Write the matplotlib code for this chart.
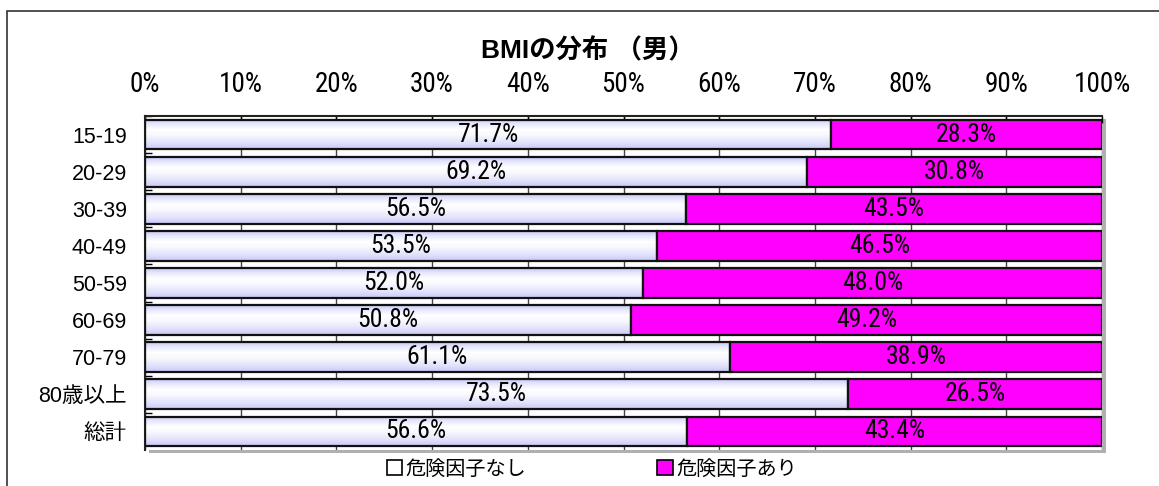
import numpy as np
import matplotlib.pyplot as plt
from matplotlib import font_manager as fm
from matplotlib.patches import Rectangle, Patch

# data
categories = ["15-19", "20-29", "30-39", "40-49", "50-59", "60-69", "70-79", "80歳以上", "総計"]
no_risk = [71.7, 69.2, 56.5, 53.5, 52.0, 50.8, 61.1, 73.5, 56.6]
risk = [28.3, 30.8, 43.5, 46.5, 48.0, 49.2, 38.9, 26.5, 43.4]
series_names = ["危険因子なし", "危険因子あり"]
xticks = list(range(0, 101, 10))

installed = {f.name for f in fm.fontManager.ttflist}
if "Liberation Sans Narrow" in installed:
    narrow, num_size = ["Liberation Sans Narrow", "Noto Sans CJK JP"], 20.5
elif "Roboto Condensed" in installed:
    narrow, num_size = ["Roboto Condensed", "Noto Sans CJK JP"], 19.5
else:
    narrow, num_size = ["Liberation Sans", "Noto Sans CJK JP"], 16
jp = ["Liberation Sans", "Noto Sans CJK JP", "DejaVu Sans"]
plt.rcParams["font.family"] = jp

fig = plt.figure(figsize=(11.59, 4.86), dpi=100)
W, H = 1159, 486
L, R, T, B = 145, 1102, 116, 450
ax = fig.add_axes([L / W, 1 - B / H, (R - L) / W, (B - T) / H])

# outer frame
fig.patches.append(Rectangle((7 / W, -0.1), 1.2, 1 - 11 / H + 0.1, transform=fig.transFigure,
                             fill=False, edgecolor="#333333", linewidth=1.2, zorder=-2))
# drop shadow of the plot area
fig.patches.append(Rectangle(((L + 4) / W, 1 - (B + 3) / H), (R - L) / W, (B - T) / H,
                             transform=fig.transFigure, facecolor="#b0b0b0",
                             edgecolor="none", zorder=-1))

# gradient for light bars
grad = np.array([0.0, 0.15, 0.35, 0.55, 0.8, 1.0])
lav = np.array([200, 200, 248]) / 255
white = np.array([1, 1, 1])
vals = np.array([0.0, 0.55, 1.0, 0.85, 0.45, 0.0])
ys = np.linspace(0, 1, 64)
w = np.interp(ys, grad, vals)
img = (lav[None, :] * (1 - w[:, None]) + white[None, :] * w[:, None])[:, None, :]

y = np.arange(len(categories))
h = 0.8
bars1 = ax.barh(y, no_risk, height=h, color="none", edgecolor="#111111", linewidth=1.6, zorder=3)
for b in bars1:
    x0, y0, bw, bh = b.get_x(), b.get_y(), b.get_width(), b.get_height()
    im = ax.imshow(img, extent=(x0, x0 + bw, y0 + bh, y0), aspect="auto", zorder=2)
    im.set_clip_path(b)
bars2 = ax.barh(y, risk, left=no_risk, height=h, color="#ff00ff", edgecolor="#111111",
                linewidth=1.6, zorder=3)

for i in range(len(categories)):
    ax.text(no_risk[i] / 2, y[i], f"{no_risk[i]:.1f}%", ha="center", va="center",
            fontsize=num_size - 1, family=narrow, zorder=4)
    ax.text(no_risk[i] + risk[i] / 2, y[i], f"{risk[i]:.1f}%", ha="center", va="center",
            fontsize=num_size - 1, family=narrow, zorder=4)

ax.set_xlim(0, 100)
ax.set_ylim(len(categories) - 0.5, -0.5)
ax.xaxis.tick_top()
ax.set_xticks(xticks)
ax.set_xticklabels([f"{t}%" for t in xticks], family=narrow, fontsize=num_size)
ax.tick_params(axis="x", direction="in", length=5, pad=13, width=1)
ax.set_yticks(y)
ax.set_yticklabels(categories, fontsize=15.5)
ax.tick_params(axis="y", length=0, pad=13)
ax.set_yticks(np.arange(len(categories)) - 0.5, minor=True)
ax.tick_params(axis="y", which="minor", direction="in", length=5, width=1)
ax.grid(axis="x", color="#444444", linewidth=1, zorder=0)
ax.set_axisbelow(True)
for s in ["top", "left"]:
    ax.spines[s].set_linewidth(1.5)
    ax.spines[s].set_color("#222222")
for s in ["right", "bottom"]:
    ax.spines[s].set_visible(False)

fig.text(588 / W, 1 - 51 / H, "BMIの分布 （男）", ha="center", va="center",
         fontsize=19, fontweight="bold", family=["Liberation Sans", "Noto Sans CJK JP"])

handles = [Patch(facecolor="white", edgecolor="black", linewidth=1.2),
           Patch(facecolor="#ff00ff", edgecolor="black", linewidth=1.2)]
fig.legend(handles, series_names, loc="center", bbox_to_anchor=(592 / W, 1 - 469 / H),
           ncol=2, frameon=False, handlelength=0.75, handleheight=0.75, handletextpad=0.2,
           columnspacing=6.5, prop={"family": "Noto Sans CJK JP", "size": 14.5})

fig.savefig("out.png", dpi=100)
